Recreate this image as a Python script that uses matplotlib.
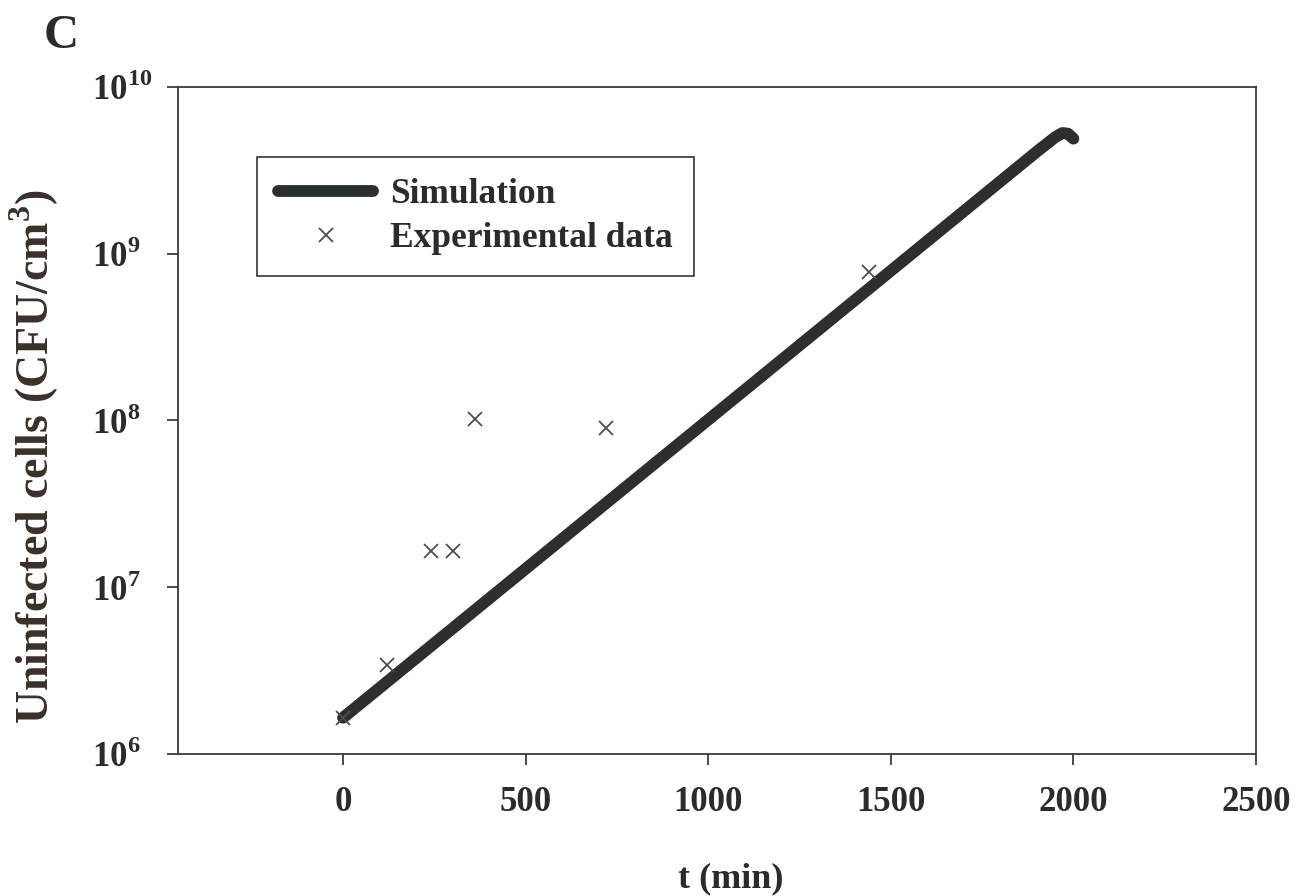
import numpy as np
import matplotlib
matplotlib.use("Agg")
from matplotlib import pyplot as plt

plt.rcParams['font.family'] = ['Liberation Serif', 'DejaVu Serif']
plt.rcParams['mathtext.fontset'] = 'custom'
plt.rcParams['mathtext.rm'] = 'Liberation Serif:bold'
plt.rcParams['mathtext.bf'] = 'Liberation Serif:bold'

# simulation curve
sim_t = [0, 500, 1000, 1500, 1900, 1950, 1970, 1985, 2000]
sim_cells = [1.65e6, 1.29e7, 1.01e8, 7.9e8, 4.1e9, 5.0e9, 5.3e9, 5.25e9, 4.9e9]

# experimental points
exp_t = [0, 120, 240, 300, 360, 720, 1440]
exp_cells = [1.64e6, 3.4e6, 1.66e7, 1.66e7, 1.02e8, 9.0e7, 7.8e8]

xticks = [0, 500, 1000, 1500, 2000, 2500]
yticks = [1e6, 1e7, 1e8, 1e9, 1e10]
ytick_labels = [r'$10^{6}$', r'$10^{7}$', r'$10^{8}$', r'$10^{9}$', r'$10^{10}$']

fig = plt.figure(figsize=(13.06, 8.96), dpi=100)
ax = fig.add_axes([0.1363, 0.1585, 0.8254, 0.7444])

ax.plot(sim_t, sim_cells, color='#2b2f30', lw=8.5, solid_capstyle='round',
        solid_joinstyle='round', label='Simulation')
ax.plot(exp_t, exp_cells, ls='none', marker='x', ms=10, mew=1.3,
        color='#4a4f52', label='Experimental data')

ax.set_yscale('log')
ax.set_xlim(-452, 2500)
ax.set_ylim(1e6, 1e10)
ax.set_xticks(xticks)
ax.set_xticklabels([str(v) for v in xticks], fontweight='bold')
ax.set_yticks(yticks)
ax.set_yticklabels(ytick_labels, ha='left')
ax.minorticks_off()
ax.tick_params(axis='both', direction='out', length=8, width=1.2,
               labelsize=25, colors='#2b2b2b')
ax.tick_params(axis='x', pad=15)
ax.tick_params(axis='y', pad=54)
for s in ax.spines.values():
    s.set_linewidth(1.3)
    s.set_color('#3a3a3a')

fig.text(731 / 1306, 1 - 879 / 896, 't (min)', ha='center', va='center',
         fontsize=26, fontweight='bold', color='#2b2b2b')
fig.text(34 / 1306, 1 - 457 / 896, r'Uninfected cells (CFU/cm$^3$)',
         rotation=90, ha='center', va='center', fontsize=33,
         fontweight='bold', color='#3b2f2a')
fig.text(44 / 1306, 1 - 36 / 896, 'C', fontsize=35, fontweight='bold',
         ha='left', va='center', color='#2b2b2b')

leg = ax.legend(loc='upper left', bbox_to_anchor=(0.0733, 0.895),
                borderaxespad=0, fontsize=25.5, handlelength=2.68,
                handletextpad=0.48, labelspacing=0.3, borderpad=0.6,
                fancybox=False, framealpha=1, edgecolor='#333333')
leg.get_frame().set_linewidth(1.2)
for t in leg.get_texts():
    t.set_fontweight('bold')
    t.set_color('#2b2b2b')

fig.savefig('out.png', dpi=100)
